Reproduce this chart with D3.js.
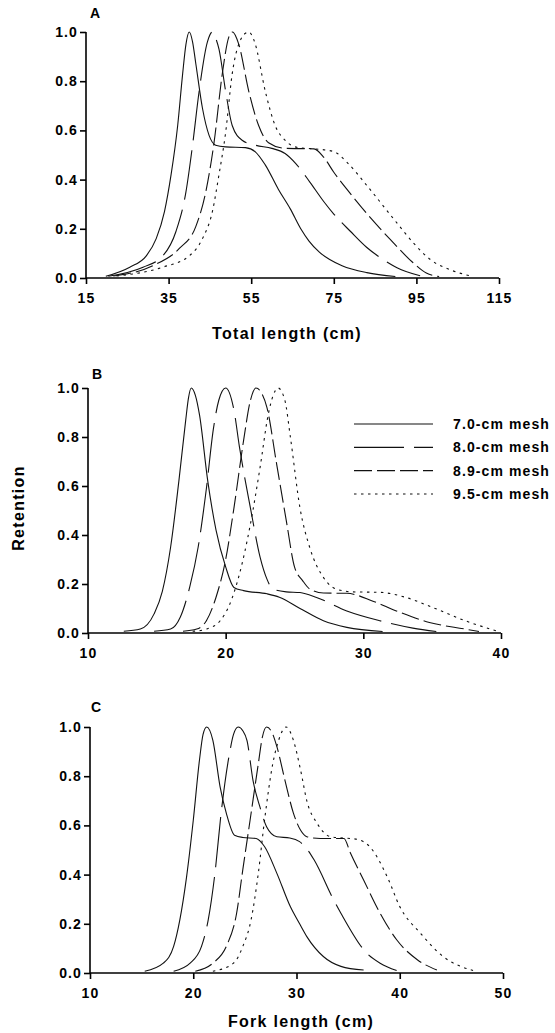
<!DOCTYPE html>
<html>
<head>
<meta charset="utf-8">
<script src="https://cdn.jsdelivr.net/npm/d3@7"></script>
<style>
  html, body { margin: 0; padding: 0; background: #fff; }
  svg { display: block; }
  text { font-family: "Liberation Sans", Arial, Helvetica, sans-serif; font-weight: bold; fill: #000; }
</style>
</head>
<body>
<script>
// ---------------- DATA ----------------
const meshLabels = ["7.0-cm mesh", "8.0-cm mesh", "8.9-cm mesh", "9.5-cm mesh"];
const yTicks = [0.0, 0.2, 0.4, 0.6, 0.8, 1.0];
const xTicksA = [15, 35, 55, 75, 95, 115];
const xTicksB = [10, 20, 30, 40];
const xTicksC = [10, 20, 30, 40, 50];
const xTitleA = "Total length (cm)";
const xTitleC = "Fork length (cm)";
const yTitle = "Retention";

// Panel A: total length (cm), retention
const a70 = [[19.8,0.007],[25.6,0.044],[29.6,0.09],[32,0.16],[34,0.27],[35.6,0.42],[37.2,0.62],[38.4,0.83],[39.2,0.95],[40.0,1.0],[40.8,0.96],[41.6,0.87],[43.2,0.69],[44.8,0.58],[46.4,0.54],[48.8,0.533],[53.6,0.53],[56,0.513],[58.4,0.46],[61.6,0.36],[64.5,0.28],[67,0.2],[69,0.15],[71.5,0.105],[74,0.075],[77,0.05],[83,0.022],[89.9,0.006]];
const a80 = [[20.4,0.007],[28.8,0.044],[33.6,0.09],[36.8,0.19],[39.2,0.35],[40.8,0.54],[42.4,0.76],[44.4,0.96],[45.6,1.0],[46.4,0.975],[47.2,0.93],[48.8,0.76],[50.4,0.62],[52.8,0.56],[56,0.54],[60,0.527],[63.2,0.506],[65.8,0.465],[69.2,0.39],[72.6,0.31],[75,0.26],[79,0.19],[83,0.124],[86.5,0.08],[90.3,0.042],[95.9,0.009]];
const a89 = [[21.6,0.008],[31.2,0.05],[37.6,0.12],[41.6,0.21],[44,0.35],[46,0.55],[48,0.83],[49.6,0.98],[50.5,1.0],[51.2,0.985],[52,0.95],[54.4,0.76],[56.8,0.62],[59.2,0.55],[63.2,0.527],[70.2,0.525],[72.6,0.49],[75,0.43],[78.2,0.36],[83.8,0.246],[88.6,0.158],[94.2,0.062],[97.4,0.02],[100.5,0.006]];
const a95 = [[22.4,0.008],[33.6,0.044],[40,0.09],[43.2,0.16],[45.6,0.27],[47.2,0.42],[48.8,0.59],[50.4,0.83],[52.8,0.98],[53.6,0.995],[54.4,1.0],[55.2,0.985],[56,0.95],[58.4,0.76],[60.8,0.62],[63.2,0.56],[66.4,0.53],[70.2,0.525],[75,0.514],[78.2,0.47],[83,0.376],[89.5,0.24],[94.2,0.144],[98.3,0.076],[103.9,0.029],[108.7,0.006]];

// Panel B: fork length (cm), retention
const b70 = [[12.6,0.007],[13.8,0.016],[14.8,0.078],[15.4,0.17],[16.0,0.35],[16.6,0.62],[17.1,0.87],[17.3,0.96],[17.5,1.0],[17.8,0.97],[18.1,0.89],[18.7,0.62],[19.3,0.42],[20,0.27],[20.6,0.186],[21.3,0.173],[23,0.16],[23.9,0.146],[25.4,0.1],[27.1,0.05],[28.8,0.023],[31.4,0.006]];
const b80 = [[14.8,0.007],[16,0.016],[16.7,0.064],[17.4,0.19],[18.0,0.35],[18.6,0.59],[19.1,0.83],[19.5,0.95],[20,1.0],[20.6,0.91],[21,0.76],[21.8,0.51],[22.5,0.31],[23,0.22],[23.4,0.18],[24.4,0.168],[25.4,0.165],[26.6,0.145],[28.8,0.09],[31.2,0.05],[33.6,0.02],[35.3,0.006]];
const b89 = [[16.9,0.007],[17.9,0.016],[18.6,0.05],[19.3,0.146],[20,0.3],[20.6,0.51],[21.3,0.785],[21.8,0.95],[22.2,1.0],[22.6,0.98],[23,0.92],[23.7,0.69],[24.4,0.46],[25.0,0.27],[25.6,0.213],[26.1,0.18],[27.1,0.163],[28.8,0.162],[30.7,0.13],[32.4,0.09],[34.8,0.043],[37.4,0.016],[38.4,0.006]];
const b95 = [[17.6,0.007],[18.6,0.016],[19.6,0.05],[20.3,0.118],[21.0,0.24],[21.8,0.445],[22.5,0.676],[23.1,0.894],[23.45,0.97],[23.8,1.0],[24.3,0.95],[24.7,0.8],[25.4,0.51],[26.1,0.35],[27.1,0.227],[28.0,0.18],[29.2,0.168],[31.2,0.166],[33.1,0.145],[35,0.105],[37.4,0.05],[39.7,0.008]];

// Panel C: fork length (cm), retention
const c70 = [[15.3,0.007],[17.1,0.04],[18.1,0.108],[18.7,0.216],[19.35,0.39],[20,0.62],[20.6,0.865],[20.95,0.97],[21.3,1.0],[21.9,0.946],[22.6,0.757],[23.2,0.65],[24.0,0.56],[24.8,0.551],[26.1,0.547],[26.9,0.514],[28.1,0.405],[29.4,0.27],[30.3,0.2],[31.0,0.148],[32.6,0.067],[34.3,0.027],[36.5,0.012]];
const c80 = [[18.1,0.007],[19.7,0.04],[20.8,0.108],[21.45,0.216],[22.1,0.405],[22.7,0.65],[23.5,0.89],[23.9,0.97],[24.35,1.0],[24.8,0.985],[25.2,0.946],[25.8,0.78],[26.45,0.676],[27.1,0.595],[28.1,0.554],[29.35,0.549],[30.3,0.534],[30.9,0.51],[31.7,0.46],[33.6,0.297],[34.3,0.243],[36.8,0.081],[38.1,0.04],[39.7,0.01]];
const c89 = [[20.2,0.007],[21.9,0.04],[23.2,0.108],[24.2,0.243],[24.8,0.42],[25.5,0.62],[26.3,0.85],[26.7,0.96],[27.1,1.0],[27.6,0.98],[28.1,0.92],[28.9,0.78],[29.7,0.65],[30.4,0.58],[31.0,0.554],[32.3,0.547],[34.6,0.547],[35.2,0.49],[36.5,0.378],[38.1,0.243],[39.7,0.135],[41.7,0.054],[43.6,0.012]];
const c95 = [[21.9,0.007],[23.9,0.04],[24.8,0.108],[25.6,0.216],[26.3,0.405],[26.9,0.62],[27.7,0.85],[28.3,0.95],[29.0,1.0],[29.7,0.946],[30.4,0.824],[31.0,0.70],[32.0,0.608],[33.3,0.554],[35.9,0.543],[37.1,0.513],[38.8,0.39],[40.0,0.27],[42.0,0.162],[44.2,0.067],[47.1,0.01]];

// ---------------- STYLE ----------------
const dashes = [null, "50,10", "18,5", "2.5,4.5"];

const W = 555, H = 1033;
const svg = d3.select("body").append("svg").attr("width", W).attr("height", H);

const panels = [
  { letter: "A", series: [a70, a80, a89, a95], xDomain: [15, 115], xTicks: xTicksA,
    left: 86, right: 499, top: 32, bottom: 278, letterX: 90, letterY: 18 },
  { letter: "B", series: [b70, b80, b89, b95], xDomain: [10, 40], xTicks: xTicksB,
    left: 88, right: 501, top: 388, bottom: 633, letterX: 92, letterY: 379 },
  { letter: "C", series: [c70, c80, c89, c95], xDomain: [10, 50], xTicks: xTicksC,
    left: 90, right: 503, top: 727, bottom: 973, letterX: 91, letterY: 712 }
];

panels.forEach(p => {
  const x = d3.scaleLinear().domain(p.xDomain).range([p.left, p.right]);
  const y = d3.scaleLinear().domain([0, 1]).range([p.bottom, p.top]);
  const g = svg.append("g");

  const line = d3.line().x(d => x(d[0])).y(d => y(d[1])).curve(d3.curveMonotoneX);
  p.series.forEach((s, i) => {
    g.append("path").datum(s).attr("d", line)
      .attr("fill", "none").attr("stroke", "#111").attr("stroke-width", 1.1)
      .attr("stroke-dasharray", dashes[i]);
  });

  const xa = g.append("g").attr("transform", `translate(0,${p.bottom})`)
    .call(d3.axisBottom(x).tickValues(p.xTicks).tickFormat(d3.format("d")).tickSize(6).tickPadding(9));
  const ya = g.append("g").attr("transform", `translate(${p.left},0)`)
    .call(d3.axisLeft(y).tickValues(yTicks).tickFormat(d3.format(".1f")).tickSize(6).tickPadding(2));
  [xa, ya].forEach(a => {
    a.select(".domain").attr("stroke", "#000").attr("stroke-width", 1.6);
    a.selectAll(".tick line").attr("stroke", "#000").attr("stroke-width", 1.6);
    a.selectAll(".tick text").style("font-size", "14px").style("letter-spacing", "1.1px")
      .attr("font-family", null).attr("fill", "#000");
  });
  xa.select(".domain").attr("d", `M${p.left},0H${p.right}`);
  ya.select(".domain").attr("d", `M0,${p.bottom}V${p.top}`);

  g.append("text").attr("x", p.letterX).attr("y", p.letterY)
    .style("font-size", "14px").text(p.letter);
});

// Axis titles
svg.append("text").attr("x", 287).attr("y", 339).attr("text-anchor", "middle")
  .style("font-size", "16px").style("letter-spacing", "1.3px").text(xTitleA);
svg.append("text").attr("x", 301).attr("y", 1027).attr("text-anchor", "middle")
  .style("font-size", "16px").style("letter-spacing", "1.3px").text(xTitleC);
svg.append("text").attr("transform", "translate(24,508) rotate(-90)").attr("text-anchor", "middle")
  .style("font-size", "16px").style("letter-spacing", "1.3px").text(yTitle);

// Legend
const legY = d3.scalePoint().domain(meshLabels).range([424, 494]);
const leg = svg.append("g");
meshLabels.forEach((m, i) => {
  leg.append("line").attr("x1", 354).attr("x2", 433).attr("y1", legY(m)).attr("y2", legY(m))
    .attr("stroke", "#111").attr("stroke-width", 1.2).attr("stroke-dasharray", dashes[i]);
  leg.append("text").attr("x", 453).attr("y", legY(m)).attr("dy", "0.36em")
    .style("font-size", "14px").style("letter-spacing", "1.1px").text(m);
});
</script>
</body>
</html>
